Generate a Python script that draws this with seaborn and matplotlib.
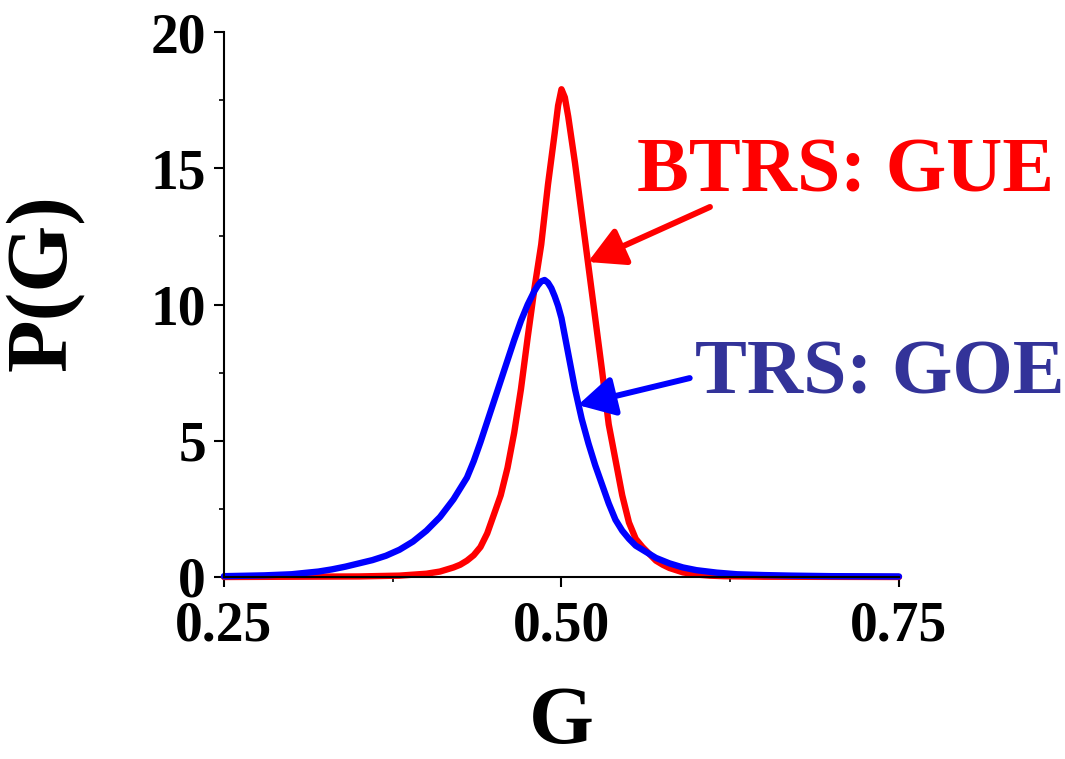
import matplotlib
matplotlib.use("Agg")
import matplotlib.pyplot as plt
import seaborn as sns
import pandas as pd
from matplotlib.ticker import MultipleLocator

# GOE curve (time-reversal symmetric)
goe_g = [0.25, 0.28, 0.30, 0.32, 0.33, 0.34, 0.35, 0.36, 0.37, 0.38, 0.39, 0.40,
         0.41, 0.42, 0.43, 0.435, 0.44, 0.445, 0.45, 0.455, 0.46, 0.465, 0.47,
         0.475, 0.48, 0.4825, 0.485, 0.4875, 0.49, 0.4925, 0.495, 0.4975, 0.50,
         0.505, 0.51, 0.515, 0.52, 0.525, 0.53, 0.535, 0.54, 0.545, 0.55, 0.555,
         0.56, 0.565, 0.57, 0.58, 0.59, 0.60, 0.615, 0.63, 0.65, 0.67, 0.70, 0.75]
goe_p = [0.03, 0.06, 0.1, 0.2, 0.28, 0.38, 0.5, 0.62, 0.78, 1.0, 1.3, 1.7,
         2.2, 2.85, 3.65, 4.25, 4.95, 5.7, 6.45, 7.2, 7.95, 8.7, 9.4,
         10.0, 10.5, 10.7, 10.85, 10.9, 10.8, 10.6, 10.3, 9.95, 9.5,
         8.2, 6.9, 5.8, 4.9, 4.1, 3.4, 2.7, 2.1, 1.7, 1.4, 1.15,
         1.0, 0.85, 0.7, 0.5, 0.35, 0.25, 0.16, 0.1, 0.07, 0.05, 0.03, 0.02]

# GUE curve (broken time-reversal symmetry)
gue_g = [0.25, 0.30, 0.35, 0.38, 0.40, 0.41, 0.42, 0.425, 0.43, 0.435, 0.44,
         0.445, 0.45, 0.455, 0.46, 0.465, 0.47, 0.475, 0.48, 0.485, 0.49, 0.495,
         0.4975, 0.50, 0.5025, 0.505, 0.51, 0.515, 0.52, 0.525, 0.53, 0.535, 0.54,
         0.545, 0.55, 0.555, 0.56, 0.565, 0.57, 0.575, 0.58, 0.59, 0.60, 0.61,
         0.62, 0.65, 0.75]
gue_p = [0.0, 0.01, 0.02, 0.05, 0.12, 0.2, 0.35, 0.45, 0.6, 0.8, 1.1,
         1.6, 2.3, 3.0, 4.0, 5.3, 6.9, 8.8, 10.6, 12.2, 14.4, 16.3,
         17.3, 17.9, 17.6, 16.9, 15.2, 13.3, 11.4, 9.5, 7.6, 5.6, 4.3,
         3.0, 2.0, 1.4, 1.1, 0.85, 0.6, 0.45, 0.33, 0.17, 0.09, 0.05,
         0.03, 0.01, 0.0]

df = pd.concat([
    pd.DataFrame({"G": gue_g, "P": gue_p, "ensemble": "GUE"}),
    pd.DataFrame({"G": goe_g, "P": goe_p, "ensemble": "GOE"}),
])

sns.set_style("ticks")
plt.rcParams["font.family"] = ["Liberation Serif", "DejaVu Serif"]
plt.rcParams["font.weight"] = "bold"
plt.rcParams.update({"text.color": "black", "axes.labelcolor": "black",
                     "xtick.color": "black", "ytick.color": "black",
                     "axes.edgecolor": "black"})

fig = plt.figure(figsize=(10.65, 7.59), dpi=100)
ax = fig.add_axes([0.2103, 0.2398, 0.6338, 0.718])

sns.lineplot(data=df, x="G", y="P", hue="ensemble", sort=False,
             palette={"GUE": "#ff0000", "GOE": "#0000ff"},
             linewidth=4.6, legend=False, ax=ax, clip_on=False,
             solid_joinstyle="round", solid_capstyle="round")

ax.set_xlim(0.25, 0.75)
ax.set_ylim(0, 20)
ax.xaxis.set_major_locator(MultipleLocator(0.25))
ax.xaxis.set_minor_locator(MultipleLocator(0.125))
ax.yaxis.set_major_locator(MultipleLocator(5))
ax.yaxis.set_minor_locator(MultipleLocator(2.5))
ax.set_xticklabels([f"{v:.2f}" for v in ax.get_xticks()])
sns.despine(ax=ax)
for s in ["left", "bottom"]:
    ax.spines[s].set_linewidth(1.5)
ax.tick_params(which="major", length=7, width=1.5, labelsize=40)
ax.tick_params(axis="x", which="major", pad=10)
ax.tick_params(axis="y", which="major", pad=6)
ax.tick_params(which="minor", length=3.5, width=1.2)
for lab in ax.get_xticklabels() + ax.get_yticklabels():
    lab.set_fontweight("bold")

ax.set_xlabel("G", fontsize=60, fontweight="bold")
ax.set_ylabel("P(G)", fontsize=62, fontweight="bold")
ax.xaxis.set_label_coords(0.5, -0.20)
ax.yaxis.set_label_coords(-0.207, 0.54)

arrow = "-|>,head_length=2.2,head_width=1.2"
ax.annotate("", xy=(0.5196, 11.56), xytext=(0.610, 13.58),
            arrowprops=dict(arrowstyle=arrow, color="#ff0000", lw=4.3,
                            shrinkA=0, shrinkB=0))
ax.annotate("", xy=(0.5122, 6.31), xytext=(0.595, 7.30),
            arrowprops=dict(arrowstyle=arrow, color="#0000ff", lw=4.3,
                            shrinkA=0, shrinkB=0))

fig.text(637 / 1065, 1 - 192 / 759, "BTRS: GUE", color="#ff0000",
         fontsize=56, fontweight="bold", ha="left", va="baseline")
fig.text(695 / 1065, 1 - 393 / 759, "TRS: GOE", color="#333399",
         fontsize=56, fontweight="bold", ha="left", va="baseline")

fig.savefig("out.png", dpi=100)
